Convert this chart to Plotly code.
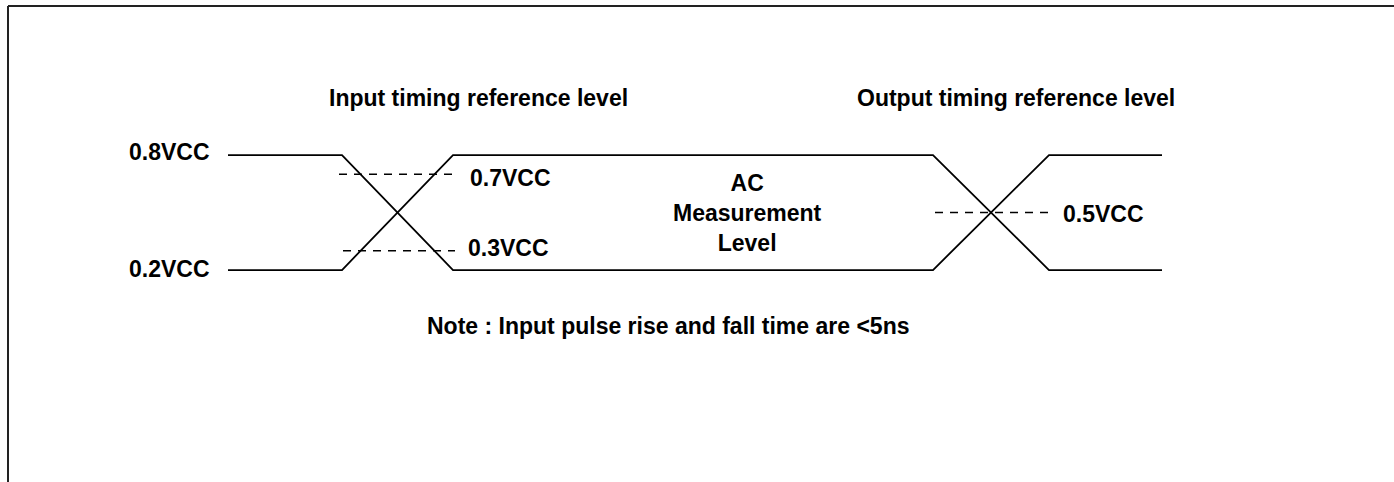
import plotly.graph_objects as go

# ---- data (levels as fraction of VCC, time in arbitrary units) ----
V_HIGH = 0.8
V_LOW = 0.2
V_IN_REF_HI = 0.7
V_IN_REF_LO = 0.3
V_OUT_REF = 0.5

wave_t = [228, 342, 453, 933, 1049, 1162]
wave_a = [V_HIGH, V_HIGH, V_LOW, V_LOW, V_HIGH, V_HIGH]
wave_b = [V_LOW, V_LOW, V_HIGH, V_HIGH, V_LOW, V_LOW]

ref_hi_t = [339, 455]
ref_lo_t = [343, 455]
ref_out_t = [935, 1050]

level_labels = ["0.8VCC", "0.2VCC"]
ref_labels = ["0.7VCC", "0.3VCC", "0.5VCC"]
title_in = "Input timing reference level"
title_out = "Output timing reference level"
ac_label = "AC<br>Measurement<br>Level"
note = "Note : Input pulse rise and fall time are <5ns"

FONT = dict(family="Liberation Sans, Arial, sans-serif", size=23, color="black", weight="bold")

fig = go.Figure()
for yv in (wave_a, wave_b):
    fig.add_trace(go.Scatter(x=wave_t, y=yv, mode="lines",
                             line=dict(color="black", width=1.8),
                             hoverinfo="skip", showlegend=False))
for tt, lv in ((ref_hi_t, V_IN_REF_HI), (ref_lo_t, V_IN_REF_LO), (ref_out_t, V_OUT_REF)):
    fig.add_trace(go.Scatter(x=tt, y=[lv, lv], mode="lines",
                             line=dict(color="black", width=1.5, dash="8px,7px"),
                             hoverinfo="skip", showlegend=False))

ann = []
ann.append(dict(x=212, y=V_HIGH, text=level_labels[0], xanchor="right", yanchor="middle", yshift=3))
ann.append(dict(x=212, y=V_LOW, text=level_labels[1], xanchor="right", yanchor="middle", yshift=1))
ann.append(dict(x=468, y=V_IN_REF_HI, text=ref_labels[0], xanchor="left", yanchor="middle", yshift=-4))
ann.append(dict(x=466, y=V_IN_REF_LO, text=ref_labels[1], xanchor="left", yanchor="middle", yshift=3))
ann.append(dict(x=1061, y=V_OUT_REF, text=ref_labels[2], xanchor="left", yanchor="middle", yshift=-1))
ann.append(dict(x=478, y=1.097, text=title_in, xanchor="center", yanchor="middle"))
ann.append(dict(x=1016, y=1.097, text=title_out, xanchor="center", yanchor="middle"))
ann.append(dict(x=747, y=0.497, text=ac_label, xanchor="center", yanchor="middle"))
ann.append(dict(x=668, y=-0.092, text=note, xanchor="center", yanchor="middle"))
for a in ann:
    a.update(xref="x", yref="y", showarrow=False, font=FONT)

fig.update_layout(
    width=1394, height=482,
    margin=dict(l=0, r=0, t=0, b=0),
    paper_bgcolor="white", plot_bgcolor="white",
    xaxis=dict(range=[0, 1394], visible=False, fixedrange=True),
    yaxis=dict(range=[-0.906, 1.609], visible=False, fixedrange=True),
    annotations=ann,
    shapes=[
        dict(type="line", xref="paper", yref="paper", x0=8 / 1394, x1=8 / 1394,
             y0=0, y1=1 - 6 / 482, line=dict(color="#222222", width=2)),
        dict(type="line", xref="paper", yref="paper", x0=8 / 1394, x1=1,
             y0=1 - 6 / 482, y1=1 - 6 / 482, line=dict(color="#222222", width=2)),
    ],
)

fig.write_html("out.html", config={"displayModeBar": False},
               post_script="document.body.style.margin='0';document.body.style.overflow='hidden';")
